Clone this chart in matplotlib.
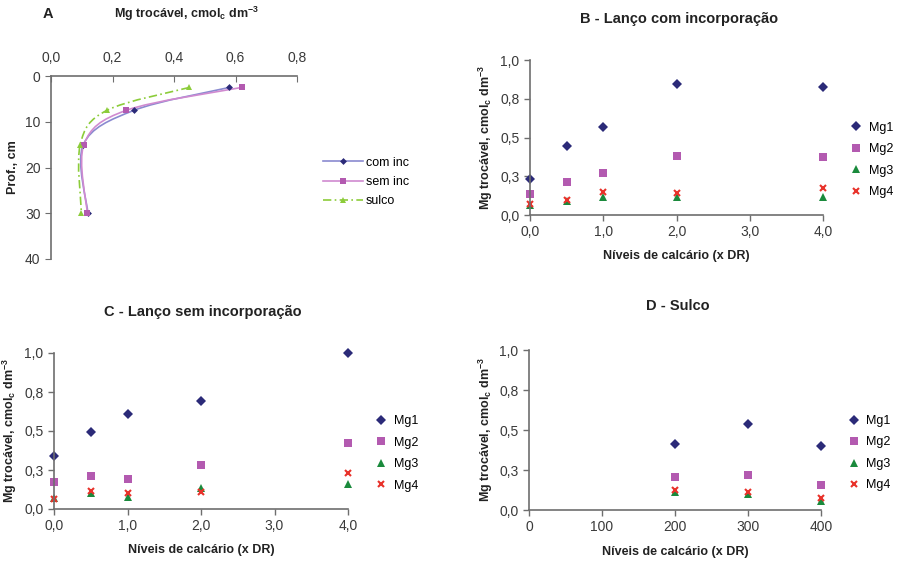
import numpy as np
import matplotlib
matplotlib.use("Agg")
import matplotlib.pyplot as plt
from matplotlib.path import Path
from matplotlib.patches import PathPatch

plt.rcParams['font.family'] = ['Liberation Sans', 'DejaVu Sans']
plt.rcParams['mathtext.default'] = 'regular'

# panel A - depth profile
depth = [2.5, 7.5, 15, 30]
com_inc = [0.58, 0.27, 0.105, 0.12]
sem_inc = [0.62, 0.245, 0.107, 0.118]
sulco = [0.45, 0.182, 0.095, 0.099]

# panels B and C - levels (x DR)
niveis = [0, 0.5, 1, 2, 4]
b_mg1 = [0.233, 0.446, 0.569, 0.847, 0.825]
b_mg2 = [0.138, 0.211, 0.270, 0.379, 0.373]
b_mg3 = [0.065, 0.088, 0.118, 0.118, 0.118]
b_mg4 = [0.071, 0.097, 0.147, 0.140, 0.176]

c_mg1 = [0.342, 0.494, 0.609, 0.690, 1.000]
c_mg2 = [0.175, 0.213, 0.190, 0.284, 0.421]
c_mg3 = [0.070, 0.100, 0.079, 0.135, 0.162]
c_mg4 = [0.062, 0.117, 0.105, 0.107, 0.229]

# panel D - furrow
d_niveis = [200, 300, 400]
d_mg1 = [0.415, 0.535, 0.400]
d_mg2 = [0.204, 0.219, 0.154]
d_mg3 = [0.115, 0.102, 0.056]
d_mg4 = [0.123, 0.110, 0.077]

y_ticks = [0, 0.25, 0.5, 0.75, 1.0]
y_ticklabels = ["0,0", "0,3", "0,5", "0,8", "1,0"]
x_ticks_bc = [0, 1, 2, 3, 4]
x_ticklabels_bc = ["0,0", "1,0", "2,0", "3,0", "4,0"]
x_ticks_d = [0, 100, 200, 300, 400]
a_xticks = [0, 0.2, 0.4, 0.6, 0.8]
a_xticklabels = ["0,0", "0,2", "0,4", "0,6", "0,8"]
a_yticks = [0, 10, 20, 30, 40]

ylab = r'Mg trocável, cmol$_{c}$ dm$^{-3}$'
xlab = 'Níveis de calcário (x DR)'

C_MG1 = '#2b2a78'
C_MG2 = '#b35ab0'
C_MG3 = '#1a8a3c'
C_MG4 = '#e8322a'
SPINE = '#6e6e6e'
TXT = '#3a3a3a'
TICKSIZE = 10
LABSIZE = 9


def smooth_path(x, y):
    # Excel-like smoothed line: Catmull-Rom as cubic Bezier segments
    pts = np.column_stack([x, y]).astype(float)
    n = len(pts)
    verts = [pts[0]]
    codes = [Path.MOVETO]
    for i in range(n - 1):
        p0 = pts[i - 1] if i > 0 else pts[i]
        p1 = pts[i]
        p2 = pts[i + 1]
        p3 = pts[i + 2] if i + 2 < n else pts[i + 1]
        c1 = p1 + (p2 - p0) / 6.0
        c2 = p2 - (p3 - p1) / 6.0
        verts += [c1, c2, p2]
        codes += [Path.CURVE4] * 3
    return Path(verts, codes)


fig = plt.figure(figsize=(8.97, 5.61), dpi=100)

W, H = 897.0, 561.0


def px_axes(l, t, r, b):
    return fig.add_axes([l / W, 1 - b / H, (r - l) / W, (b - t) / H])


def style(ax):
    for s in ['top', 'right']:
        ax.spines[s].set_visible(False)
    for s in ['left', 'bottom']:
        ax.spines[s].set_color(SPINE)
        ax.spines[s].set_linewidth(1.2)
    ax.tick_params(direction='out', length=4, width=1, color=SPINE,
                   labelsize=TICKSIZE, labelcolor=TXT)


# ---------- A ----------
axA = px_axes(51, 76, 297, 259)
axA.set_xlim(0, 0.8)
axA.set_ylim(40, 0)
for s in ['bottom', 'right']:
    axA.spines[s].set_visible(False)
for s in ['top', 'left']:
    axA.spines[s].set_color(SPINE)
    axA.spines[s].set_linewidth(1.2)
axA.xaxis.tick_top()
axA.set_xticks(a_xticks)
axA.set_xticklabels(a_xticklabels)
axA.set_yticks(a_yticks)
axA.tick_params(axis='x', direction='in', length=4, color=SPINE,
                labelsize=TICKSIZE, labelcolor=TXT, pad=8)
axA.tick_params(axis='y', direction='out', length=4, color=SPINE,
                labelsize=TICKSIZE, labelcolor=TXT)

series_a = [
    (com_inc, '#8a8ad0', C_MG1, 'D', 3.5, '-', 'com inc'),
    (sem_inc, '#d08ad0', C_MG2, 's', 4, '-', 'sem inc'),
    (sulco, '#8ccc3a', '#8ccc3a', '^', 5, (0, (5, 2, 1, 2)), 'sulco'),
]
for vals, lc, mc, mk, ms, ls, lab in series_a:
    axA.add_patch(PathPatch(smooth_path(vals, depth), fill=False, edgecolor=lc,
                            linewidth=1.2, linestyle=ls))
    axA.plot(vals, depth, linestyle='none', marker=mk, color=mc, markersize=ms,
             markeredgewidth=0, clip_on=False)
    axA.plot([], [], color=lc, linestyle=ls, linewidth=1.2, marker=mk,
             markerfacecolor=mc, markeredgewidth=0, markersize=ms, label=lab)

axA.legend(loc='center left', bbox_to_anchor=(317 / W, 1 - 182 / H),
           bbox_transform=fig.transFigure, frameon=False, fontsize=9,
           handlelength=3.2, handletextpad=0.2, labelspacing=0.6, borderpad=0)

axA.set_ylabel('Prof., cm', fontsize=LABSIZE, fontweight='bold', color='#222222')
axA.yaxis.set_label_coords(-0.13, 0.5)
fig.text(48 / W, 1 - 14 / H, 'A', fontsize=10.5, fontweight='bold', ha='center',
         va='center', color='#222222')
fig.text(186 / W, 1 - 14 / H, ylab, fontsize=LABSIZE, fontweight='bold',
         ha='center', va='center', color='#222222')


def scatter_panel(ax, xs, m1, m2, m3, m4, title, title_xy):
    style(ax)
    ax.plot(xs, m1, linestyle='none', marker='D', color=C_MG1, markersize=5,
            markeredgewidth=0, label='Mg1', clip_on=False)
    ax.plot(xs, m2, linestyle='none', marker='s', color=C_MG2, markersize=5.5,
            markeredgewidth=0, label='Mg2', clip_on=False)
    ax.plot(xs, m3, linestyle='none', marker='^', color=C_MG3, markersize=6,
            markeredgewidth=0, label='Mg3', clip_on=False)
    ax.plot(xs, m4, linestyle='none', marker='x', color=C_MG4, markersize=4,
            markeredgewidth=1.5, label='Mg4', clip_on=False)
    ax.set_ylim(0, 1.0)
    ax.set_yticks(y_ticks)
    ax.set_yticklabels(y_ticklabels)
    ax.set_ylabel(ylab, fontsize=LABSIZE, fontweight='bold', color='#222222')
    ax.set_xlabel(xlab, fontsize=LABSIZE, fontweight='bold', color='#222222')
    ax.yaxis.set_label_coords(-0.118, 0.5)
    ax.xaxis.set_label_coords(0.5, -0.225)
    ax.legend(loc='center left', bbox_to_anchor=(1.07, 0.355), frameon=False,
              fontsize=9, handlelength=1.0, handletextpad=0.5,
              labelspacing=0.76, borderpad=0)
    fig.text(title_xy[0] / W, 1 - title_xy[1] / H, title, fontsize=10.5,
             fontweight='bold', ha='center', va='center', color='#222222')


axB = px_axes(530, 60, 823, 215)
axB.set_xlim(0, 4)
axB.set_xticks(x_ticks_bc)
axB.set_xticklabels(x_ticklabels_bc)
scatter_panel(axB, niveis, b_mg1, b_mg2, b_mg3, b_mg4,
              'B - Lanço com incorporação', (679, 19))

axC = px_axes(54, 353, 348, 509)
axC.set_xlim(0, 4)
axC.set_xticks(x_ticks_bc)
axC.set_xticklabels(x_ticklabels_bc)
scatter_panel(axC, niveis, c_mg1, c_mg2, c_mg3, c_mg4,
              'C - Lanço sem incorporação', (203, 312))

axD = px_axes(529, 350, 821, 510)
axD.set_xlim(0, 400)
axD.set_xticks(x_ticks_d)
scatter_panel(axD, d_niveis, d_mg1, d_mg2, d_mg3, d_mg4,
              'D - Sulco', (678, 306))

fig.savefig('out.png', dpi=100)
